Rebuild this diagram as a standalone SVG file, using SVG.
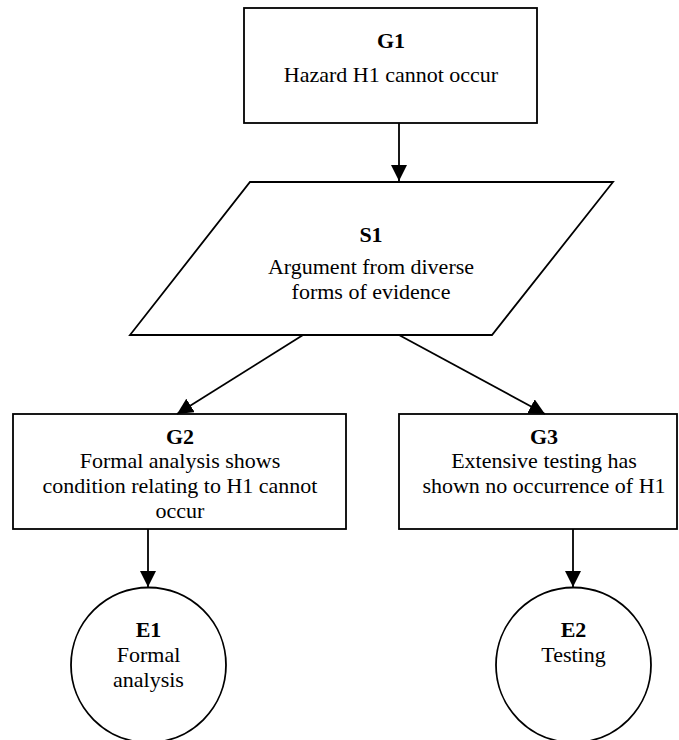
<svg xmlns="http://www.w3.org/2000/svg" width="679" height="740" viewBox="0 0 679 740">
<style>
  .shape { fill: #ffffff; stroke: #000000; stroke-width: 1.8; }
  .conn { fill: none; stroke: #000000; stroke-width: 1.8; }
  text { font-family: "Liberation Serif", "Times New Roman", serif; font-size: 22px; fill: #000000; text-anchor: middle; }
  .id { font-weight: bold; }
</style>
<defs>
  <marker id="arrow" viewBox="0 0 16 16" refX="16" refY="8" markerWidth="16" markerHeight="16" markerUnits="userSpaceOnUse" orient="auto">
    <path d="M0,0 L16,8 L0,16 Z" fill="#000000"/>
  </marker>
</defs>
<rect width="679" height="740" fill="#ffffff"/>

<g id="G1">
  <rect class="shape" x="244" y="8" width="293" height="115"/>
  <text class="id" x="391" y="48">G1</text>
  <text x="391" y="82">Hazard H1 cannot occur</text>
</g>

<g id="S1">
  <polygon class="shape" points="250,182 613,182 492,335 130,335"/>
  <text class="id" x="371" y="242">S1</text>
  <text x="371" y="274">Argument from diverse</text>
  <text x="371" y="299">forms of evidence</text>
</g>

<g id="G2">
  <rect class="shape" x="13" y="414" width="333" height="115"/>
  <text class="id" x="180" y="444">G2</text>
  <text x="180" y="468">Formal analysis shows</text>
  <text x="180" y="493">condition relating to H1 cannot</text>
  <text x="180" y="518">occur</text>
</g>

<g id="G3">
  <rect class="shape" x="399" y="414" width="278" height="115"/>
  <text class="id" x="544" y="444">G3</text>
  <text x="544" y="468">Extensive testing has</text>
  <text x="544" y="493">shown no occurrence of H1</text>
</g>

<g id="E1">
  <circle class="shape" cx="148.5" cy="665" r="77.5"/>
  <text class="id" x="148.5" y="637">E1</text>
  <text x="148.5" y="662">Formal</text>
  <text x="148.5" y="687">analysis</text>
</g>

<g id="E2">
  <circle class="shape" cx="573.5" cy="665" r="77.5"/>
  <text class="id" x="573.5" y="637">E2</text>
  <text x="573.5" y="662">Testing</text>
</g>

<g id="connectors">
  <line class="conn" x1="399" y1="123" x2="399" y2="181" marker-end="url(#arrow)"/>
  <line class="conn" x1="303" y1="335" x2="177" y2="414" marker-end="url(#arrow)"/>
  <line class="conn" x1="399" y1="335" x2="545" y2="414" marker-end="url(#arrow)"/>
  <line class="conn" x1="148" y1="529" x2="148" y2="587" marker-end="url(#arrow)"/>
  <line class="conn" x1="573" y1="529" x2="573" y2="587" marker-end="url(#arrow)"/>
</g>
</svg>
